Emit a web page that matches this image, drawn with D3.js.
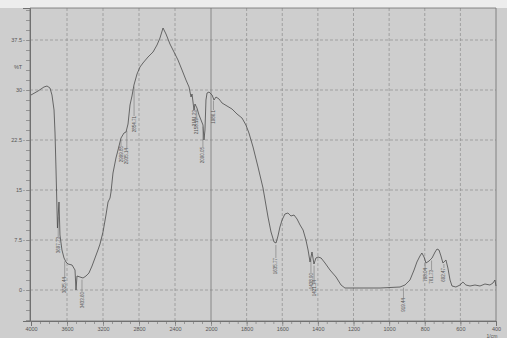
<!DOCTYPE html>
<html>
<head>
<meta charset="utf-8">
<script src="https://cdn.jsdelivr.net/npm/d3@7"></script>
<style>
  body { margin: 0; background: #cecece; }
  svg { display: block; }
  text { font-family: "Liberation Sans", Arial, sans-serif; }
</style>
</head>
<body>
<svg width="507" height="338"></svg>
<script>
// spectrum (wavenumber in 1/cm, %T)
var wavenumbers = [4000, 3922, 3856, 3822, 3789, 3767, 3744, 3733, 3722, 3706, 3689, 3678, 3656, 3633, 3611, 3589, 3544, 3511, 3500, 3489, 3456, 3422, 3389, 3356, 3322, 3289, 3256, 3233, 3200, 3167, 3144, 3122, 3111, 3089, 3056, 3033, 3000, 2967, 2944, 2922, 2900, 2878, 2856, 2822, 2789, 2756, 2700, 2644, 2600, 2567, 2533, 2500, 2456, 2411, 2367, 2322, 2278, 2244, 2222, 2211, 2189, 2178, 2156, 2133, 2111, 2089, 2078, 2067, 2056, 2044, 2022, 1994, 1983, 1972, 1955, 1938, 1910, 1882, 1854, 1826, 1804, 1787, 1764, 1736, 1708, 1680, 1663, 1646, 1635, 1624, 1613, 1601, 1585, 1568, 1551, 1534, 1517, 1500, 1483, 1467, 1455, 1444, 1433, 1422, 1411, 1399, 1382, 1360, 1332, 1298, 1270, 1248, 1164, 1051, 939, 911, 883, 860, 844, 827, 816, 804, 793, 776, 759, 742, 731, 720, 709, 698, 681, 670, 658, 647, 625, 602, 586, 569, 546, 518, 490, 462, 434, 417, 406, 400];
var transmittance = [29.25, 29.85, 30.45, 30.6, 30.3, 29.25, 27.0, 23.55, 18.0, 9.3, 13.2, 8.25, 6.0, 4.8, 4.2, 3.9, 3.75, 3.0, 0.0, 2.1, 1.95, 1.8, 2.1, 2.55, 3.6, 4.8, 6.0, 6.9, 8.7, 11.25, 13.2, 13.8, 14.7, 17.55, 19.8, 21.0, 22.8, 23.55, 23.7, 24.9, 27.75, 29.1, 30.75, 32.4, 33.45, 34.05, 34.95, 35.7, 36.75, 37.8, 39.3, 38.4, 36.9, 35.7, 34.5, 33.0, 31.5, 30.45, 28.95, 29.4, 27.0, 27.9, 27.3, 26.25, 25.5, 24.75, 22.5, 24.0, 28.5, 29.55, 29.7, 29.25, 28.5, 28.95, 28.65, 28.05, 27.6, 27.15, 26.4, 25.8, 24.75, 23.55, 21.45, 18.45, 15.3, 10.95, 8.7, 7.2, 7.05, 8.1, 9.45, 10.5, 11.4, 11.55, 11.1, 11.25, 10.65, 9.75, 9.0, 7.5, 6.0, 4.2, 5.7, 3.9, 4.8, 4.95, 4.8, 4.05, 3.0, 1.95, 0.75, 0.3, 0.3, 0.3, 0.45, 0.75, 1.5, 3.0, 4.2, 5.1, 5.55, 4.95, 4.05, 4.35, 4.8, 5.7, 6.15, 6.0, 5.1, 4.05, 4.5, 3.3, 1.5, 0.6, 0.45, 0.75, 1.2, 0.75, 0.6, 0.75, 0.6, 0.9, 0.75, 1.05, 1.5, 0.6];

// peak picks printed on the chart
var peakWavenumbers = [3697.73, 3625.44, 3433.60, 2999.85, 2935.14, 2854.71, 2181.23, 2158.19, 2090.05, 1986.1, 1635.77, 1438.90, 1421.34, 919.44, 798.04, 761.73, 692.47];
var peakLabels = ["3697.73", "3625.44", "3433.60", "2999.85", "2935.14", "2854.71", "2181.23", "2158.19", "2090.05", "1986.1", "1635.77", "1438.90", "1421.34", "919.44", "798.04", "761.73", "692.47"];
var peakLabelTop = [7.95, 1.95, -0.3, 21.6, 21.3, 26.1, 27.0, 25.8, 21.45, 27.0, 4.8, 2.55, 1.5, -1.2, 3.3, 3.0, 3.3];

var xTickValues = [4000, 3600, 3200, 2800, 2400, 2000, 1800, 1600, 1400, 1200, 1000, 800, 600, 400];
var yTickValues = [0, 7.5, 15, 22.5, 30, 37.5];
var yTickLabels = ["0", "7.5", "15", "22.5", "30", "37.5"];

var svg = d3.select("svg");
// note: "top" is taken by window.top, so prefix these
var pLeft = 30, pRight = 496, pTop = 8, pBottom = 321;

// the instrument doubles the scale below 2000 1/cm
var x = d3.scaleLinear().domain([4000, 2000, 400]).range([31, 211, 496]);
var y = d3.scaleLinear().domain([-4.65, 42.3]).range([pBottom, pTop]);

svg.append("rect").attr("width", 507).attr("height", pTop).attr("fill", "#ededed");

var grid = svg.append("g");
grid.selectAll(".hg").data(yTickValues).enter().append("line")
  .attr("x1", pLeft).attr("x2", pRight)
  .attr("y1", d => y(d)).attr("y2", d => y(d))
  .attr("stroke", "#8c8c8c").attr("stroke-width", 0.7).attr("stroke-dasharray", "3,2");
grid.selectAll(".vg").data(xTickValues.filter(d => d != 4000 && d != 400)).enter().append("line")
  .attr("x1", d => x(d)).attr("x2", d => x(d))
  .attr("y1", pTop).attr("y2", pBottom)
  .attr("stroke", d => d == 2000 ? "#777" : "#8c8c8c")
  .attr("stroke-width", d => d == 2000 ? 0.8 : 0.7)
  .attr("stroke-dasharray", d => d == 2000 ? null : "3,2");

// frame
svg.append("path")
  .attr("d", "M" + pLeft + "," + pBottom + "V" + pTop + "H" + pRight + "V" + pBottom + "Z")
  .attr("fill", "none").attr("stroke", "#707070").attr("stroke-width", 0.8);

// minor ticks
var xMinor = d3.range(4000, 2000, -100).concat(d3.range(2000, 399, -50));
svg.append("g").attr("transform", "translate(0," + pBottom + ")")
  .call(d3.axisBottom(x).tickValues(xMinor).tickSize(3).tickFormat(""))
  .call(g => g.select(".domain").remove())
  .call(g => g.selectAll("line").attr("stroke", "#707070").attr("stroke-width", 0.6));
var yMinor = d3.range(-4.5, 42.1, 1.5);
svg.append("g").attr("transform", "translate(" + pLeft + ",0)")
  .call(d3.axisLeft(y).tickValues(yMinor).tickSize(4).tickFormat(""))
  .call(g => g.select(".domain").remove())
  .call(g => g.selectAll("line").attr("stroke", "#707070").attr("stroke-width", 0.6));

// major axes
svg.append("g").attr("transform", "translate(0," + pBottom + ")")
  .call(d3.axisBottom(x).tickValues(xTickValues).tickSize(5).tickPadding(1).tickFormat(d3.format("d")))
  .call(g => g.select(".domain").attr("stroke", "#707070"))
  .call(g => g.selectAll("line").attr("stroke", "#707070").attr("stroke-width", 0.6))
  .call(g => g.selectAll("text").attr("font-size", 5.5).attr("fill", "#555"));
svg.append("g").attr("transform", "translate(" + pLeft + ",0)")
  .call(d3.axisLeft(y).tickValues(yTickValues).tickSize(7).tickPadding(1).tickFormat((d, i) => yTickLabels[i]))
  .call(g => g.select(".domain").attr("stroke", "#707070"))
  .call(g => g.selectAll("line").attr("stroke", "#8c8c8c").attr("stroke-width", 0.6).attr("stroke-dasharray", "3,2"))
  .call(g => g.selectAll("text").attr("font-size", 5.5).attr("fill", "#555"));

svg.append("text").attr("x", 18).attr("y", 69).attr("text-anchor", "middle")
  .attr("font-size", 5.5).attr("fill", "#555").text("%T");
svg.append("text").attr("x", 492).attr("y", 337.5).attr("text-anchor", "middle")
  .attr("font-size", 5).attr("fill", "#555").text("1/cm");

// spectrum
var pts = wavenumbers.map((w, i) => [w, transmittance[i]]);
var line = d3.line().x(d => x(d[0])).y(d => y(d[1]));
svg.append("path").datum(pts).attr("d", line)
  .attr("fill", "none").attr("stroke", "#4a4a4a").attr("stroke-width", 0.8)
  .attr("stroke-linejoin", "round");

// peak markers
var asc = pts.slice().reverse();
var bis = d3.bisector(d => d[0]).left;
function tAt(w) {
  var i = bis(asc, w);
  if (i <= 0) return asc[0][1];
  var a = asc[i - 1], b = asc[i];
  return a[1] + (b[1] - a[1]) * (w - a[0]) / (b[0] - a[0]);
}
var peaks = svg.append("g");
peakWavenumbers.forEach(function(w, i) {
  var px = x(w);
  var y0 = y(tAt(w)) + 2, y1 = y(peakLabelTop[i]);
  if (y1 > y0) {
    peaks.append("line").attr("x1", px).attr("x2", px).attr("y1", y0).attr("y2", y1)
      .attr("stroke", "#666").attr("stroke-width", 0.5);
  }
  peaks.append("text")
    .attr("transform", "translate(" + px + "," + y1 + ") rotate(-90)")
    .attr("text-anchor", "end").attr("dy", "0.35em")
    .attr("font-size", 4.5).attr("fill", "#555")
    .text(peakLabels[i]);
});
</script>
</body>
</html>
